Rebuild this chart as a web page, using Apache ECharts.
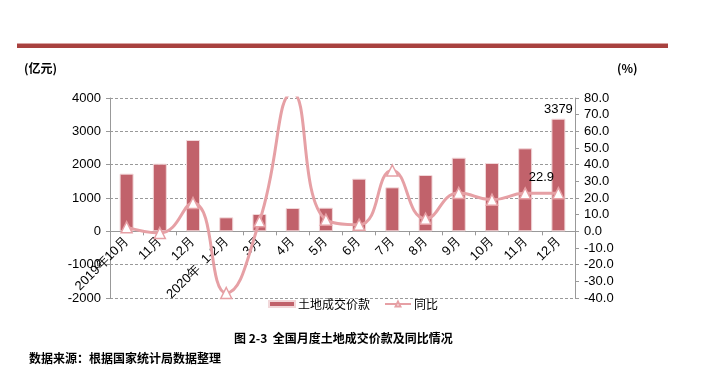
<!DOCTYPE html>
<html><head><meta charset="utf-8">
<script src="https://cdn.jsdelivr.net/npm/echarts@6/dist/echarts.min.js"></script>
<style>html,body{margin:0;padding:0;background:#fff}#c{width:725px;height:375px}</style>
</head><body><div id="c"></div>
<script>
const categories = ['2019年10月','11月','12月','2020年  1-2月','3月','4月','5月','6月','7月','8月','9月','10月','11月','12月'];
const landValue = [1730, 2030, 2740, 420, 520, 700, 710, 1580, 1320, 1690, 2210, 2050, 2490, 3379];
const yoyValue = [2.5, -1.0, 17.0, -37.0, 6.0, 83.0, 7.0, 4.0, 36.5, 7.6, 23.0, 19.0, 22.8, 22.9];
const leftTicks = {min: -2000, max: 4000, interval: 1000};
const rightTicks = {min: -40, max: 80, interval: 10};

const chart = echarts.init(document.getElementById('c'));
const font = 'Liberation Sans, Arial, sans-serif';
const cjk = '"Noto Sans CJK SC", sans-serif';
const gridTop = 98, gridBottom = 77, gridHeight = 375 - gridTop - gridBottom;
// shift the category axis up to the zero line of the left axis
const zeroOffset = -gridHeight * (0 - leftTicks.min) / (leftTicks.max - leftTicks.min);
chart.setOption({
  animation: false,
  textStyle: {fontFamily: font},
  graphic: [
    {type: 'rect', shape: {x: 17, y: 44, width: 651, height: 4}, style: {fill: '#A8413F'}},
    {type: 'rect', shape: {x: 17, y: 43, width: 651, height: 1}, style: {fill: '#D9A3A2'}},
    {type: 'text', left: 24, top: 62, style: {text: '(亿元)', font: 'bold 12px ' + cjk, fill: '#000'}},
    {type: 'text', left: 617, top: 62, style: {text: '(%)', font: 'bold 12px ' + cjk, fill: '#000'}},
    {type: 'text', left: 234, top: 332, style: {text: '图 2-3  全国月度土地成交价款及同比情况', font: 'bold 12px ' + cjk, fill: '#000'}},
    {type: 'text', left: 29, top: 352, style: {text: '数据来源：根据国家统计局数据整理', font: 'bold 12px ' + cjk, fill: '#000'}}
  ],
  legend: {
    top: 293, left: 263, itemGap: 14, itemWidth: 26, itemHeight: 6,
    textStyle: {fontSize: 12, color: '#000', fontFamily: cjk, padding: [0, 0, 0, -2]},
    data: [{name: '土地成交价款', icon: 'rect'}, {name: '同比'}]
  },
  grid: {left: 110, right: 150, top: gridTop, bottom: gridBottom, containLabel: false},
  xAxis: {
    type: 'category', data: categories, position: 'bottom', offset: zeroOffset,
    axisLine: {onZero: false, lineStyle: {color: '#999', width: 1}},
    axisTick: {show: true, length: 4, lineStyle: {color: '#999'}},
    axisLabel: {rotate: 45, fontSize: 13, color: '#000', interval: 0, margin: 8, fontFamily: font}
  },
  yAxis: [
    {type: 'value', min: leftTicks.min, max: leftTicks.max, interval: leftTicks.interval,
     axisLine: {show: true, lineStyle: {color: '#999'}},
     axisTick: {show: true, length: 4, lineStyle: {color: '#999'}},
     axisLabel: {fontSize: 13, color: '#000', margin: 9, formatter: v => String(v)},
     splitLine: {show: true, lineStyle: {color: '#999', type: [3, 2], width: 1}}},
    {type: 'value', min: rightTicks.min, max: rightTicks.max, interval: rightTicks.interval, position: 'right',
     axisLine: {show: true, lineStyle: {color: '#999'}},
     axisTick: {show: true, length: 4, lineStyle: {color: '#999'}},
     axisLabel: {fontSize: 13, color: '#000', margin: 9, formatter: v => v.toFixed(1)},
     splitLine: {show: false}}
  ],
  series: [
    {name: '土地成交价款', type: 'bar', data: landValue, barWidth: 14, yAxisIndex: 0,
     itemStyle: {color: '#C1626B', borderColor: '#F2D8DA', borderWidth: 1},
     label: {show: true, position: 'top', fontSize: 13, color: '#000', distance: 3,
       formatter: p => p.dataIndex === landValue.length - 1 ? String(p.value) : ''}},
    {name: '同比', type: 'line', data: yoyValue, yAxisIndex: 1, smooth: 0.5, clip: true,
     symbol: 'triangle', symbolSize: 11,
     lineStyle: {color: '#E6A0A5', width: 3},
     itemStyle: {color: '#fff', borderColor: '#E6A0A5', borderWidth: 1.5},
     label: {show: true, position: 'inside', offset: [-17, -16], fontSize: 13, color: '#000',
       formatter: p => p.dataIndex === yoyValue.length - 1 ? p.value.toFixed(1) : ''}}
  ]
});
</script></body></html>
